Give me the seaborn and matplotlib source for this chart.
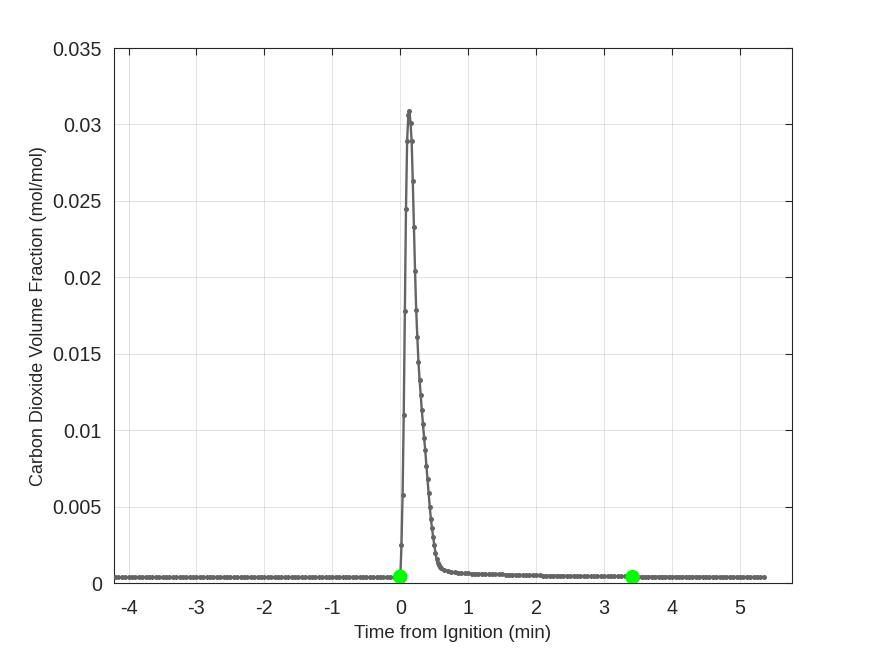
import numpy as np
import pandas as pd
import matplotlib
matplotlib.use("Agg")
import matplotlib.pyplot as plt
import seaborn as sns
from matplotlib.ticker import FuncFormatter

# ---------------- data ----------------
# pre-ignition baseline (min)
pre_time = np.round(np.arange(-4.20, 0.0, 0.05), 2)
pre_co2 = [0.00040] * len(pre_time)

# ignition peak, sampled each second (seconds from ignition)
peak_sec = list(range(36))
peak_co2 = [0.00043, 0.0025, 0.0058, 0.0110, 0.0178, 0.0245, 0.0289, 0.0306,
            0.0309, 0.0301, 0.0289, 0.0263, 0.0233, 0.0204, 0.0179, 0.0161,
            0.0145, 0.0133, 0.0123, 0.0113, 0.0104, 0.0095, 0.0087, 0.0077,
            0.0068, 0.0059, 0.0050, 0.0042, 0.0036, 0.0030, 0.0025, 0.0020,
            0.0016, 0.00135, 0.00118, 0.00105]

# decay tail (min)
tail_time = np.round(np.arange(0.60, 5.36, 0.05), 2)
tail_co2 = [0.00100, 0.00088, 0.00080, 0.00075, 0.00071, 0.00069, 0.00067, 0.00066,
            0.00065, 0.00064, 0.00063, 0.00062, 0.00062, 0.00061, 0.00060, 0.00060,
            0.00059, 0.00058, 0.00058, 0.00057, 0.00056, 0.00056, 0.00055, 0.00055,
            0.00054, 0.00054, 0.00053, 0.00053, 0.00052,
            0.00052, 0.00051, 0.00051, 0.00050, 0.00050, 0.00050, 0.00049, 0.00049,
            0.00049, 0.00048, 0.00048, 0.00048, 0.00047, 0.00047, 0.00047, 0.00046,
            0.00046, 0.00046, 0.00046] + [0.00045] * 10 + [0.00044] * 10 + \
           [0.00043] * 10 + [0.00042] * 10 + [0.00041] * 8

# event markers: ignition and end of test
event_time = [0.0, 3.42]
event_co2 = [0.00043, 0.00040]

x_ticks = [-4, -3, -2, -1, 0, 1, 2, 3, 4, 5]
y_ticks = [0, 0.005, 0.01, 0.015, 0.02, 0.025, 0.03, 0.035]

# ---------------- build table ----------------
time_all = np.concatenate([pre_time, np.array(peak_sec) / 60.0, tail_time])
co2_all = np.concatenate([pre_co2, peak_co2, tail_co2])
df = pd.DataFrame({"time": time_all, "co2": co2_all})
ev = pd.DataFrame({"time": event_time, "co2": event_co2})

# ---------------- plot ----------------
sns.set_style("white")
plt.rcParams["font.family"] = ["Liberation Sans", "DejaVu Sans"]
plt.rcParams["axes.unicode_minus"] = False

fig = plt.figure(figsize=(8.75, 6.56), dpi=100)
ax = fig.add_axes([0.1306, 0.1108, 0.7742, 0.8160])

sns.lineplot(data=df, x="time", y="co2", ax=ax, color="#646464", linewidth=1.7,
             marker="o", markersize=3.6, markeredgewidth=0, sort=False,
             zorder=3)
sns.scatterplot(data=ev, x="time", y="co2", ax=ax, color="#00ff00", s=110,
                edgecolor="none", zorder=4)

ax.set_xlim(-4.21, 5.76)
ax.set_ylim(0, 0.035)
ax.set_xticks(x_ticks)
ax.set_yticks(y_ticks)
ax.yaxis.set_major_formatter(FuncFormatter(lambda v, p: "%g" % v))
ax.xaxis.set_major_formatter(FuncFormatter(lambda v, p: "%g" % v))

ax.grid(True, color="#262626", alpha=0.15, linewidth=0.6)
ax.set_axisbelow(True)
for s in ax.spines.values():
    s.set_color("#262626")
    s.set_linewidth(0.8)
ax.tick_params(direction="in", length=5, width=0.8, color="#262626",
               top=True, right=True, labelsize=14.2, labelcolor="#262626")
ax.tick_params(axis="x", pad=11)
ax.tick_params(axis="y", pad=9)

ax.set_xlabel("Time from Ignition (min)", fontsize=13.5, color="#262626", labelpad=5)
ax.set_ylabel("Carbon Dioxide Volume Fraction (mol/mol)", fontsize=13,
              color="#262626", labelpad=4)

fig.savefig("out.png", dpi=100)
